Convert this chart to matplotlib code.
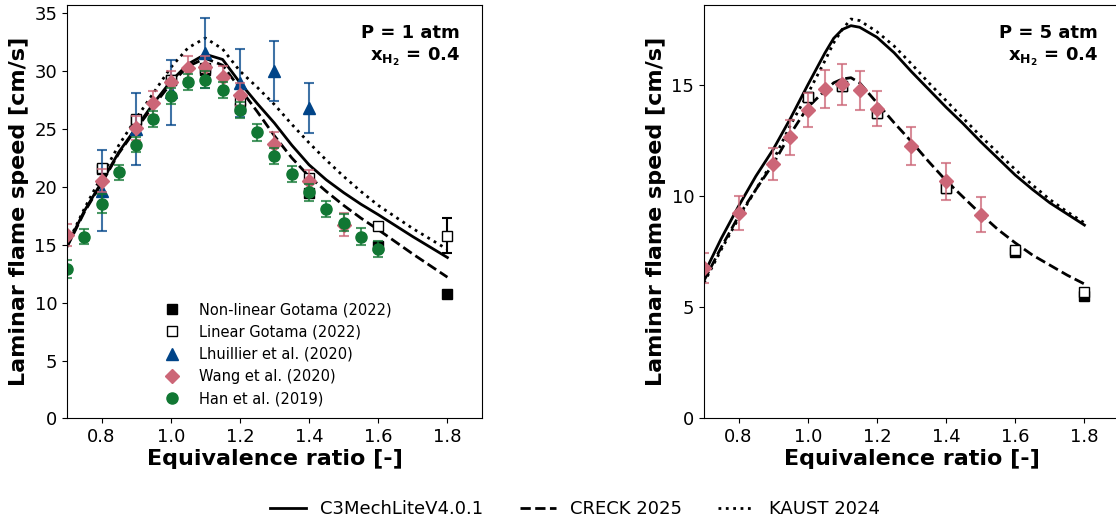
import matplotlib
matplotlib.use("Agg")
import matplotlib.pyplot as plt
from matplotlib.colors import to_rgba
from matplotlib.lines import Line2D

# ---- model curves, P = 1 atm ----
phi_1 = [0.70, 0.75, 0.80, 0.85, 0.90, 0.95, 1.00, 1.05, 1.10, 1.15, 1.20, 1.25,
         1.30, 1.35, 1.40, 1.45, 1.50, 1.55, 1.60, 1.70, 1.80]
c3_1 = [14.9, 17.9, 20.4, 23.0, 25.1, 27.2, 29.1, 30.6, 31.45, 31.0, 29.0, 27.2,
        25.5, 23.6, 21.9, 20.6, 19.5, 18.5, 17.6, 15.7, 13.9]
creck_1 = [14.8, 17.8, 20.3, 22.9, 25.0, 27.0, 28.9, 30.4, 31.1, 30.5, 28.5, 26.5,
           24.4, 22.5, 20.9, 19.6, 18.4, 17.3, 16.3, 14.2, 12.2]
kaust_1 = [15.0, 18.1, 20.9, 23.6, 25.9, 28.1, 30.3, 32.0, 32.85, 31.9, 30.0, 28.6,
           27.1, 25.4, 23.8, 22.3, 20.9, 19.6, 18.4, 16.4, 14.6]

# ---- model curves, P = 5 atm ----
phi_5 = [0.70, 0.75, 0.80, 0.85, 0.90, 0.95, 1.00, 1.05, 1.075, 1.10, 1.125, 1.15, 1.20,
         1.25, 1.30, 1.35, 1.40, 1.45, 1.50, 1.55, 1.60, 1.65, 1.70, 1.75, 1.80]
c3_5 = [6.5, 8.1, 9.55, 10.9, 12.1, 13.5, 15.0, 16.45, 17.1, 17.5, 17.67, 17.6, 17.15,
        16.45, 15.6, 14.8, 14.0, 13.25, 12.45, 11.7, 10.95, 10.3, 9.7, 9.2, 8.7]
creck_5 = [6.2, 7.7, 9.1, 10.3, 11.45, 12.8, 14.0, 14.75, 15.1, 15.27, 15.33, 15.1, 14.2,
           13.3, 12.45, 11.55, 10.7, 9.95, 9.2, 8.5, 7.9, 7.35, 6.9, 6.45, 6.05]
kaust_5 = [6.1, 7.6, 9.0, 10.3, 11.6, 13.2, 14.6, 16.1, 16.9, 17.5, 17.97, 17.9, 17.4,
           16.75, 15.95, 15.1, 14.3, 13.5, 12.7, 11.95, 11.2, 10.5, 9.85, 9.3, 8.8]

# ---- experiments, P = 1 atm ----
gnl_phi_1 = [0.8, 0.9, 1.0, 1.1, 1.2, 1.4, 1.6, 1.8]
gnl_sl_1 = [21.5, 25.8, 29.2, 30.1, 26.81, 19.5, 14.85, 10.73]

glin_phi_1 = [0.8, 0.9, 1.0, 1.1, 1.2, 1.4, 1.6, 1.8]
glin_sl_1 = [21.62, 25.86, 29.26, 30.27, 27.53, 20.76, 16.64, 15.77]
glin_err_1 = [0, 0, 0, 0, 0, 0, 0, 1.5]

lhu_phi = [0.8, 0.9, 1.0, 1.1, 1.2, 1.3, 1.4]
lhu_sl = [19.68, 25.0, 28.15, 31.56, 28.97, 30.0, 26.81]
lhu_err = [3.5, 3.1, 2.78, 3.0, 2.97, 2.55, 2.16]

wang_phi_1 = [0.7, 0.8, 0.9, 0.95, 1.0, 1.05, 1.1, 1.15, 1.2, 1.3, 1.4, 1.5]
wang_sl_1 = [15.86, 20.53, 25.08, 27.24, 29.02, 30.27, 30.32, 29.46, 27.96, 23.7, 20.47, 16.72]
wang_err_1 = [0.95, 1.0, 1.0, 1.0, 1.0, 1.0, 1.0, 1.0, 1.0, 1.0, 1.0, 1.0]

han_phi = [0.7, 0.75, 0.8, 0.85, 0.9, 0.95, 1.0, 1.05, 1.1, 1.15, 1.2, 1.25,
           1.3, 1.35, 1.4, 1.45, 1.5, 1.55, 1.6]
han_sl = [12.9, 15.71, 18.54, 21.24, 23.64, 25.86, 27.81, 29.06, 29.26, 28.39, 26.66,
          24.7, 22.69, 21.11, 19.52, 18.08, 16.92, 15.71, 14.62]
han_err = [0.8, 0.66, 0.8, 0.65, 0.66, 0.7, 0.7, 0.7, 0.7, 0.7, 0.7, 0.7,
           0.7, 0.7, 0.7, 0.7, 0.7, 0.7, 0.7]

# ---- experiments, P = 5 atm ----
gnl_phi_5 = [1.0, 1.1, 1.2, 1.4, 1.6, 1.8]
gnl_sl_5 = [14.47, 14.94, 13.76, 10.38, 7.47, 5.5]

glin_phi_5 = [1.0, 1.1, 1.2, 1.4, 1.6, 1.8]
glin_sl_5 = [14.47, 14.94, 13.76, 10.38, 7.59, 5.67]

wang_phi_5 = [0.7, 0.8, 0.9, 0.95, 1.0, 1.05, 1.1, 1.15, 1.2, 1.3, 1.4, 1.5]
wang_sl_5 = [6.77, 9.25, 11.46, 12.64, 13.88, 14.81, 15.04, 14.77, 13.94, 12.26, 10.68, 9.17]
wang_err_5 = [0.68, 0.75, 0.72, 0.78, 0.76, 0.86, 0.92, 0.88, 0.8, 0.84, 0.83, 0.78]

BLUE = "#004488"
PINK = "#CC6677"
GREEN = "#117733"

plt.rcParams["font.family"] = "DejaVu Sans"
fig = plt.figure(figsize=(11.16, 5.27), dpi=100)
ax1 = fig.add_axes([0.0600, 0.2059, 0.3719, 0.7846])
ax2 = fig.add_axes([0.6308, 0.2059, 0.3719, 0.7846])


def err(ax, x, y, e, color, alpha=0.75):
    ax.errorbar(x, y, yerr=e, fmt="none", ecolor=to_rgba(color, alpha),
                elinewidth=1.5, capsize=3.5, capthick=1.5)


def curves(ax, phi, c3, creck, kaust):
    ax.plot(phi, c3, "-", color="k", lw=2)
    ax.plot(phi, creck, "--", color="k", lw=2)
    ax.plot(phi, kaust, ":", color="k", lw=2)


# left panel
curves(ax1, phi_1, c3_1, creck_1, kaust_1)
ax1.plot(gnl_phi_1, gnl_sl_1, "s", color="k", ms=7.5, ls="none",
         label="Non-linear Gotama (2022)")
err(ax1, glin_phi_1, glin_sl_1, glin_err_1, "k", 1.0)
ax1.plot(glin_phi_1, glin_sl_1, "s", mfc="white", mec="k", ms=7.5, ls="none",
         label="Linear Gotama (2022)")
err(ax1, lhu_phi, lhu_sl, lhu_err, BLUE)
ax1.plot(lhu_phi, lhu_sl, "^", color=BLUE, ms=8.5, ls="none",
         label="Lhuillier et al. (2020)")
err(ax1, wang_phi_1, wang_sl_1, wang_err_1, PINK)
ax1.plot(wang_phi_1, wang_sl_1, "D", color=PINK, ms=7.5, ls="none",
         label="Wang et al. (2020)")
err(ax1, han_phi, han_sl, han_err, GREEN)
ax1.plot(han_phi, han_sl, "o", color=GREEN, ms=8, ls="none",
         label="Han et al. (2019)")

ax1.legend(loc="lower left", bbox_to_anchor=(0.205, 0.015), frameon=False,
           fontsize=10.5, borderaxespad=0)
ax1.text(0.947, 0.955, "P = 1 atm\n$\\mathbf{x_{H_2}}$ = 0.4", transform=ax1.transAxes,
         ha="right", va="top", fontsize=13, fontweight="bold", linespacing=1.3)
ax1.set_xlim(0.7, 1.9)
ax1.set_ylim(0, 35.7)

# right panel
curves(ax2, phi_5, c3_5, creck_5, kaust_5)
ax2.plot(gnl_phi_5, gnl_sl_5, "s", color="k", ms=7.5, ls="none")
ax2.plot(glin_phi_5, glin_sl_5, "s", mfc="white", mec="k", ms=7.5, ls="none")
err(ax2, wang_phi_5, wang_sl_5, wang_err_5, PINK)
ax2.plot(wang_phi_5, wang_sl_5, "D", color=PINK, ms=7.5, ls="none")
ax2.text(0.949, 0.955, "P = 5 atm\n$\\mathbf{x_{H_2}}$ = 0.4", transform=ax2.transAxes,
         ha="right", va="top", fontsize=13, fontweight="bold", linespacing=1.3)
ax2.set_xlim(0.7, 1.9)
ax2.set_ylim(0, 18.6)
ax2.set_yticks([0, 5, 10, 15])

for ax in (ax1, ax2):
    ax.set_xticks([0.8, 1.0, 1.2, 1.4, 1.6, 1.8])
    ax.tick_params(labelsize=13)
    ax.set_xlabel("Equivalence ratio [-]", fontsize=16, fontweight="bold", labelpad=2)
    ax.set_ylabel("Laminar flame speed [cm/s]", fontsize=16, fontweight="bold")

handles = [Line2D([], [], color="k", ls="-", lw=2),
           Line2D([], [], color="k", ls="--", lw=2),
           Line2D([], [], color="k", ls=":", lw=2)]
fig.legend(handles, ["C3MechLiteV4.0.1", "CRECK 2025", "KAUST 2024"], ncol=3,
           loc="center", bbox_to_anchor=(0.515, 0.034), frameon=False, fontsize=13)

fig.savefig("out.png", dpi=100)
